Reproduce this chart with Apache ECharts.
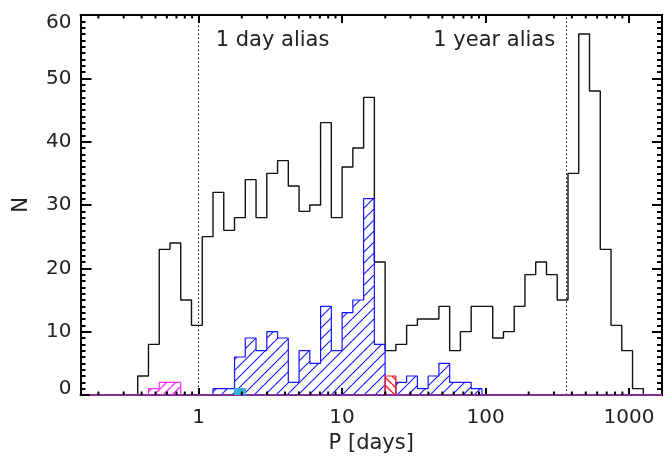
<!DOCTYPE html>
<html><head><meta charset="utf-8">
<script src="https://cdn.jsdelivr.net/npm/echarts@6/dist/echarts.min.js"></script>
<style>html,body{margin:0;padding:0;background:#fff}#c{width:665px;height:459px}</style>
</head><body><div id="c"></div>
<script>
// Histogram bins: equal width in log10(P [days])
const binStartLogP = -0.425;
const binWidthLogP = 0.075;

// All candidates (black outline), first bin index 0
const allFirstBin = 0;
const allCounts = [3, 8, 23, 24, 15, 11, 25, 32, 26, 28, 34, 28, 35, 37, 33, 29, 30, 43, 28, 36, 39, 47, 21,
                   7, 8, 11, 12, 12, 14, 7, 10, 14, 14, 9, 10, 14, 19, 21, 19, 15, 35, 57, 48, 23, 11, 7, 1];
// Blue hatched subset
const blueFirstBin = 7;
const blueCounts = [1, 1, 6, 9, 7, 10, 9, 2, 7, 5, 14, 7, 13, 15, 31, 8, 0, 2, 3, 1, 3, 5, 2, 2, 1];
// Red hatched subset
const redFirstBin = 23;
const redCounts = [3];
// Magenta hatched subset
const magentaFirstBin = 1;
const magentaCounts = [1, 2, 2];
// Cyan filled subset
const cyanFirstBin = 9;
const cyanCounts = [1];

// Axes
const xMin = 0.15, xMax = 1700;
const yMin = 0, yMax = 60, yStep = 10;
const xMinorMultipliers = [2, 3, 4, 5, 6, 7, 8, 9];
const xMinorDecades = [0.1, 1, 10, 100];
const baselineStartP = 0.174;

// Alias annotations
const aliasPeriods = [1, 365];
const aliasLabels = ['1 day alias', '1 year alias'];

const FONT = 'DejaVu Sans';
const TXT = '#222';

function edge(k) { return Math.pow(10, binStartLogP + k * binWidthLogP); }
function stepData(first, counts) {
  const pts = [[edge(first), 0]];
  counts.forEach((c, i) => pts.push([edge(first + i), c]));
  pts.push([edge(first + counts.length), 0]);
  return pts;
}
function hatch(color, dir, size, lw) {
  const c = document.createElement('canvas');
  c.width = c.height = size;
  const g = c.getContext('2d');
  g.strokeStyle = color; g.lineWidth = lw;
  g.beginPath();
  for (const o of [-size, 0, size]) {
    if (dir > 0) { g.moveTo(o, size); g.lineTo(o + size, 0); }
    else { g.moveTo(o, 0); g.lineTo(o + size, size); }
  }
  g.stroke();
  return { image: c, repeat: 'repeat' };
}

const xMinorTicks = [];
xMinorDecades.forEach(d => xMinorMultipliers.forEach(m => {
  const v = d * m; if (v > xMin && v < xMax) xMinorTicks.push([v, 0]);
}));

function pow10Label(v) {
  const l = Math.log10(v);
  if (Math.abs(l - Math.round(l)) > 1e-6) return '';
  return String(Math.round(v));
}
function yLabel(v) {
  if (v === yMin) return '{lo|' + v + '}';
  if (v === yMax) return '{hi|' + v + '}';
  return String(v);
}

const chart = echarts.init(document.getElementById('c'), null, { renderer: 'canvas' });
const black = '#000';
const blue = '#1414ff';
const red = '#ff1a1a';
const magenta = '#ff2cff';
const cyan = '#3aaedc';

function histSeries(name, first, counts, color, area, z) {
  return {
    name, type: 'line', step: 'end', symbol: 'none', z,
    data: stepData(first, counts),
    lineStyle: { color, width: 1.2 },
    areaStyle: area ? { color: area, opacity: 1 } : undefined,
    silent: true
  };
}

const labelStyle = { fontSize: 20, fontFamily: FONT, color: TXT };

const option = {
  animation: false,
  backgroundColor: '#fff',
  grid: { left: 80.5, right: 0.5, top: 15, bottom: 64, containLabel: false },
  xAxis: [
    {
      type: 'log', logBase: 10, min: xMin, max: xMax, position: 'bottom',
      axisLine: { show: true, onZero: false, lineStyle: { color: black, width: 2 } },
      axisTick: { inside: true, length: 7, lineStyle: { color: black, width: 2 } },
      axisLabel: Object.assign({ margin: 13, formatter: pow10Label }, labelStyle),
      splitLine: { show: false },
      name: 'P [days]', nameLocation: 'middle', nameGap: 36,
      nameTextStyle: { fontSize: 21, fontFamily: FONT, color: TXT }
    },
    {
      type: 'log', logBase: 10, min: xMin, max: xMax, position: 'top',
      axisLine: { show: true, onZero: false, lineStyle: { color: black, width: 2 } },
      axisTick: { inside: true, length: 8, lineStyle: { color: black, width: 2 } },
      axisLabel: { show: false },
      splitLine: { show: false }
    }
  ],
  yAxis: [
    {
      type: 'value', min: yMin, max: yMax, interval: yStep, position: 'left',
      axisLine: { show: true, lineStyle: { color: black, width: 2 } },
      axisTick: { inside: true, length: 11, lineStyle: { color: black, width: 2 } },
      minorTick: { show: true, splitNumber: 10, length: 5, lineStyle: { color: black, width: 2 } },
      axisLabel: Object.assign({
        margin: 9, formatter: yLabel,
        rich: {
          lo: Object.assign({ padding: [0, 0, 13, 0] }, labelStyle),
          hi: Object.assign({ padding: [16, 0, 0, 0] }, labelStyle)
        }
      }, labelStyle),
      splitLine: { show: false },
      name: 'N', nameLocation: 'middle', nameRotate: 90, nameGap: 48,
      nameTextStyle: { fontSize: 21, fontFamily: FONT, color: TXT }
    },
    {
      type: 'value', min: yMin, max: yMax, interval: yStep, position: 'right',
      axisLine: { show: true, lineStyle: { color: black, width: 2 } },
      axisTick: { inside: true, length: 10, lineStyle: { color: black, width: 2 } },
      minorTick: { show: true, splitNumber: 10, length: 5, lineStyle: { color: black, width: 2 } },
      axisLabel: { show: false },
      splitLine: { show: false }
    }
  ],
  series: [
    Object.assign(histSeries('all', allFirstBin, allCounts, black, null, 3), {
      lineStyle: { color: '#111', width: 1.4 },
      markLine: {
        silent: true, symbol: 'none', label: { show: false },
        lineStyle: { color: black, width: 1, type: [1.5, 2.5] },
        data: aliasPeriods.map(p => ({ xAxis: p }))
      }
    }),
    histSeries('blue', blueFirstBin, blueCounts, blue, hatch(blue, 1, 11, 1.1), 4),
    histSeries('red', redFirstBin, redCounts, red, hatch(red, -1, 8, 1.4), 5),
    histSeries('magenta', magentaFirstBin, magentaCounts, magenta, hatch(magenta, 1, 9, 1.4), 5),
    Object.assign(histSeries('cyan', cyanFirstBin, cyanCounts, cyan, cyan, 6), {
      markLine: {
        silent: true, symbol: 'none', label: { show: false },
        lineStyle: { color: '#b43ccc', width: 1.6, type: 'solid' },
        data: [[{ coord: [baselineStartP, 0] }, { coord: [xMax, 0] }]]
      }
    }),
    {
      type: 'custom', silent: true, clip: false, z: 10,
      xAxisIndex: 0, yAxisIndex: 0,
      data: xMinorTicks, encode: { x: 0, y: 1 },
      renderItem: function (params, api) {
        const v = api.value(0);
        const b = api.coord([v, yMin]);
        const t = api.coord([v, yMax]);
        return {
          type: 'group', children: [
            { type: 'line', shape: { x1: b[0], y1: b[1], x2: b[0], y2: b[1] - 3.5 }, style: { stroke: black, lineWidth: 2 } },
            { type: 'line', shape: { x1: t[0], y1: t[1], x2: t[0], y2: t[1] + 3.5 }, style: { stroke: black, lineWidth: 2 } }
          ]
        };
      }
    }
  ]
};
chart.setOption(option);

const pxDay = chart.convertToPixel({ xAxisIndex: 0 }, aliasPeriods[0]);
const pxYear = chart.convertToPixel({ xAxisIndex: 0 }, aliasPeriods[1]);
chart.setOption({
  graphic: [
    { type: 'text', x: pxDay + 17, y: 41, style: { text: aliasLabels[0], font: '21px "' + FONT + '"', fill: TXT, align: 'left', verticalAlign: 'middle' } },
    { type: 'text', x: pxYear - 11, y: 41, style: { text: aliasLabels[1], font: '21px "' + FONT + '"', fill: TXT, align: 'right', verticalAlign: 'middle' } }
  ]
});
</script>
</body></html>
